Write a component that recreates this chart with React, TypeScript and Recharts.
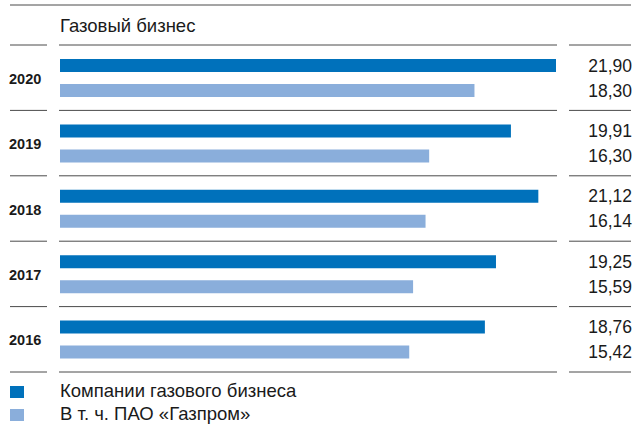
import React from "react";
import { BarChart, Bar, XAxis, YAxis, LabelList } from "recharts";

// years top to bottom
const years = ["2020", "2019", "2018", "2017", "2016"];
const gasBusiness = [21.9, 19.91, 21.12, 19.25, 18.76];
const gazprom = [18.3, 16.3, 16.14, 15.59, 15.42];
const seriesNames = ["Компании газового бизнеса", "В т. ч. ПАО «Газпром»"];

const DARK = "#0071bb";
const LIGHT = "#8aaedb";
const LINE = "#4a4a4a";
const FONT = "'Liberation Sans', Arial, Helvetica, sans-serif";

const W = 634;
const H = 426;
const margin = { top: 45, right: 78, bottom: 54, left: 0 };

const data = years.map((y, i) => ({ year: y, gas: gasBusiness[i], gazprom: gazprom[i] }));

const fmt = (v: number) => v.toFixed(2).replace(".", ",");

// draws year label plus the row separators
const YearTick = (props: any) => {
  const { y, payload, index } = props;
  const band = (H - margin.top - margin.bottom) / years.length;
  const bottom = y + band / 2;
  const top = y - band / 2;
  const seg = (yy: number) => (
    <g>
      <line x1={10} x2={47} y1={yy} y2={yy} stroke={LINE} strokeWidth={1} />
      <line x1={59} x2={557} y1={yy} y2={yy} stroke={LINE} strokeWidth={1} />
      <line x1={569} x2={631} y1={yy} y2={yy} stroke={LINE} strokeWidth={1} />
    </g>
  );
  return (
    <g>
      {index === 0 && (
        <g>
          <line x1={10} x2={631} y1={5} y2={5} stroke={LINE} strokeWidth={1} />
          <text x={60} y={32} fontSize={18.5} fill="#1a1a1a" fontFamily={FONT}>
            Газовый бизнес
          </text>
          {seg(top)}
        </g>
      )}
      {seg(bottom)}
      <text x={9} y={y} dy={6} fontSize={14.5} fontWeight="bold" fill="#1a1a1a" fontFamily={FONT}>
        {payload.value}
      </text>
    </g>
  );
};

const ValueLabel = (props: any) => {
  const { y, height, value } = props;
  return (
    <text x={632} y={y + height / 2} dy={6} textAnchor="end" fontSize={17.5} fill="#1a1a1a" fontFamily={FONT}>
      {fmt(value)}
    </text>
  );
};

export default function App() {
  return (
    <div style={{ position: "absolute", left: 0, top: 0, width: W, height: H, background: "#fff", fontFamily: FONT, overflow: "hidden" }}>
      <BarChart
        width={W}
        height={H}
        data={data}
        layout="vertical"
        margin={margin}
        barSize={13}
        barGap={12}
      >
        <XAxis type="number" domain={[0, 21.9]} hide />
        <YAxis
          type="category"
          dataKey="year"
          width={60}
          axisLine={false}
          tickLine={false}
          tick={(p: any) => <YearTick {...p} />}
          interval={0}
        />
        <Bar dataKey="gas" fill={DARK} isAnimationActive={false}>
          <LabelList dataKey="gas" content={<ValueLabel />} />
        </Bar>
        <Bar dataKey="gazprom" fill={LIGHT} isAnimationActive={false}>
          <LabelList dataKey="gazprom" content={<ValueLabel />} />
        </Bar>
      </BarChart>
      <div style={{ position: "absolute", left: 0, top: 380 }}>
        {seriesNames.map((n, i) => (
          <div key={n} style={{ position: "relative", height: 23, fontSize: 18.5, color: "#1a1a1a", lineHeight: "22px" }}>
            <span
              style={{
                position: "absolute",
                left: 10,
                top: 6,
                width: 14,
                height: 12,
                background: i === 0 ? DARK : LIGHT,
              }}
            />
            <span style={{ position: "absolute", left: 60, top: 0, whiteSpace: "nowrap" }}>{n}</span>
          </div>
        ))}
      </div>
    </div>
  );
}
